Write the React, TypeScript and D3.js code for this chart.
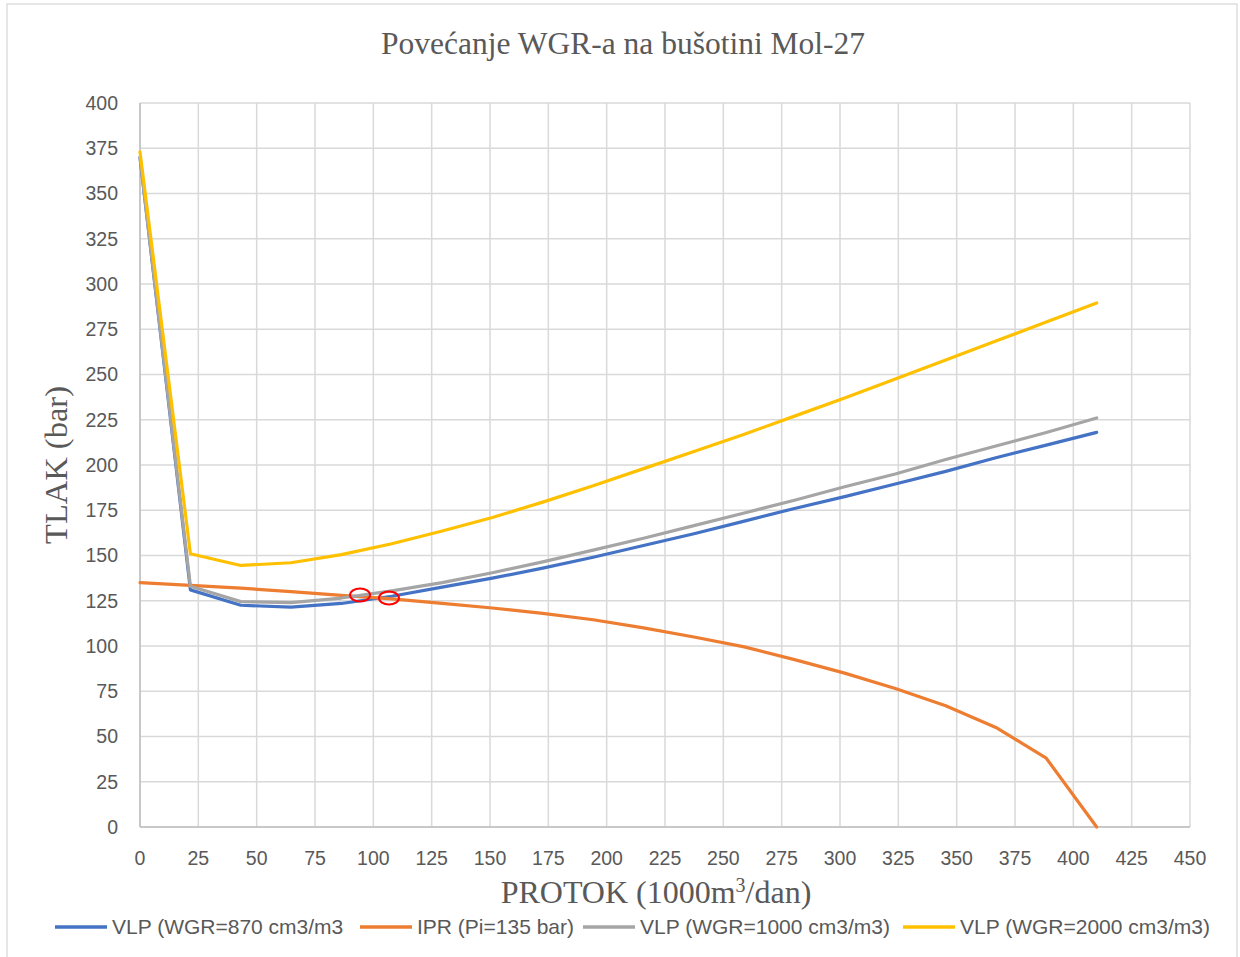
import { scaleLinear, line, range } from 'd3'

// protok (1000 m3/dan)
const protok = [0, 21.6, 43.2, 64.7, 86.3, 107.9, 129.5, 151, 172.6, 194.2, 215.8, 237.4, 259, 280.5, 302, 323.7, 345.3, 366.8, 388.4, 410]

const vlp870 = [370, 131, 122.5, 121.5, 123.5, 127.5, 132.5, 137.5, 143, 149, 155.5, 162, 169, 176, 182.5, 189.5, 196.5, 204, 211, 218]
const ipr = [135, 133.5, 132, 130, 128, 126, 123.5, 121, 118, 114.5, 110, 105, 99.5, 92.5, 85, 76.5, 67, 55, 38, 0]
const vlp1000 = [370, 133, 124.5, 124, 126.5, 130.5, 135, 140.5, 146.5, 153, 159.5, 166.5, 173.5, 180.5, 188, 195, 203, 210.5, 218, 226]
const vlp2000 = [373, 151, 144.5, 146, 150.5, 156.5, 163.5, 171, 179.5, 188.5, 198, 207.5, 217, 227, 237, 247.5, 258, 268.5, 279, 289.5]

const seriesNames = ['VLP (WGR=870 cm3/m3', 'IPR (Pi=135 bar)', 'VLP (WGR=1000 cm3/m3)', 'VLP (WGR=2000 cm3/m3)']
const seriesColors = ['#4472c4', '#ed7d31', '#a5a5a5', '#ffc000']

// presjecista oznacena crvenim elipsama
const markers = [{ x: 94.3, y: 128.2 }, { x: 106.7, y: 126.5 }]

const xTicks = range(0, 451, 25)
const yTicks = range(0, 401, 25)

const App = () => {
    const width = 1240
    const height = 957
    const margin = { left: 140, right: 50, top: 103, bottom: 130 }
    const innerW = width - margin.left - margin.right
    const innerH = height - margin.top - margin.bottom

    const x = scaleLinear().domain([0, 450]).range([0, innerW])
    const y = scaleLinear().domain([0, 400]).range([innerH, 0])

    const series = [vlp870, ipr, vlp1000, vlp2000]
    // crtanje redom: plava, narancasta, siva, zuta
    const mkLine = line<number>().x((_, i) => x(protok[i])).y(d => y(d))

    const legendX = [55, 360, 583, 903]
    const tickFont = "'Liberation Sans', Arial, sans-serif"
    const serif = "'Liberation Serif', 'Times New Roman', serif"

    return (
        <svg width={width} height={height} style={{ position: 'absolute', left: 0, top: 0, background: '#fff' }}>
            <rect x={7} y={4} width={1230} height={965} fill="#fff" stroke="#d9d9d9" strokeWidth={1.3} />
            <text x={623} y={54} textAnchor="middle" fontFamily={serif} fontSize={31.5} fill="#595959">
                Povećanje WGR-a na bušotini Mol-27
            </text>
            <g transform={`translate(${margin.left},${margin.top})`}>
                {xTicks.map(t => (
                    <line key={'gx' + t} x1={x(t)} x2={x(t)} y1={0} y2={innerH} stroke="#d9d9d9" strokeWidth={1.5} />
                ))}
                {yTicks.map(t => (
                    <line key={'gy' + t} x1={0} x2={innerW} y1={y(t)} y2={y(t)} stroke="#d9d9d9" strokeWidth={1.5} />
                ))}
                <line x1={0} x2={innerW} y1={innerH} y2={innerH} stroke="#bfbfbf" strokeWidth={1.5} />
                <line x1={0} x2={0} y1={0} y2={innerH} stroke="#bfbfbf" strokeWidth={1.5} />

                {yTicks.map(t => (
                    <text key={'ty' + t} x={-22} y={y(t)} dy="0.35em" textAnchor="end" fontFamily={tickFont} fontSize={19.5} fill="#595959">{t}</text>
                ))}
                {xTicks.map(t => (
                    <text key={'tx' + t} x={x(t)} y={innerH + 38} textAnchor="middle" fontFamily={tickFont} fontSize={19.5} fill="#595959">{t}</text>
                ))}

                {series.map((s, i) => (
                    <path key={i} d={mkLine(s) || ''} fill="none" stroke={seriesColors[i]} strokeWidth={3.2} strokeLinejoin="round" strokeLinecap="round" />
                ))}

                {markers.map((m, i) => (
                    <ellipse key={i} cx={x(m.x)} cy={y(m.y)} rx={10} ry={6.5} fill="none" stroke="#ff0000" strokeWidth={2} />
                ))}
            </g>

            <text transform={`translate(67,${margin.top + innerH / 2}) rotate(-90)`} textAnchor="middle" fontFamily={serif} fontSize={32.5} fill="#595959">
                TLAK (bar)
            </text>
            <text x={656} y={903} textAnchor="middle" fontFamily={serif} fontSize={32} fill="#595959">
                PROTOK (1000m<tspan dy={-11} fontSize={20}>3</tspan><tspan dy={11}>/dan)</tspan>
            </text>

            {seriesNames.map((n, i) => (
                <g key={n} transform={`translate(${legendX[i]},927)`}>
                    <line x1={0} x2={52} y1={0} y2={0} stroke={seriesColors[i]} strokeWidth={3.5} />
                    <text x={57} y={0} dy="0.35em" fontFamily={tickFont} fontSize={21} fill="#595959">{n}</text>
                </g>
            ))}
        </svg>
    )
}

export default App
